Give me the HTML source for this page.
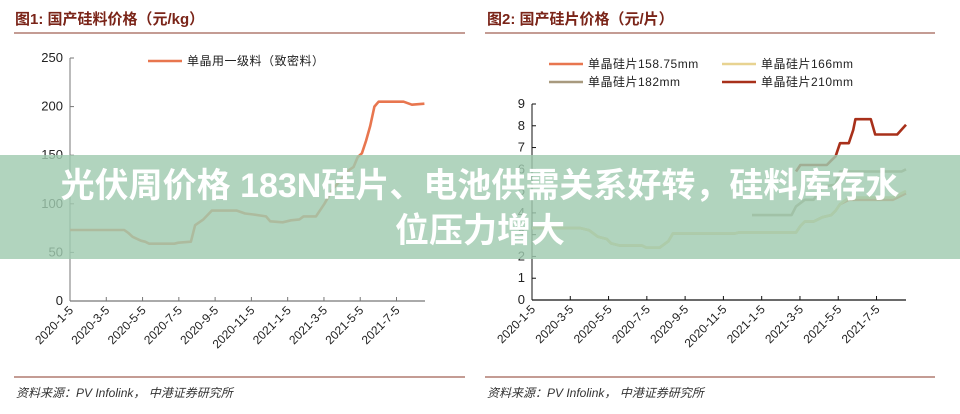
<!DOCTYPE html>
<html><head><meta charset="utf-8">
<style>
body{margin:0;width:960px;height:414px;background:#fff;overflow:hidden;font-family:"Liberation Sans","Noto Sans CJK SC",sans-serif;}
svg{position:absolute;left:0;top:0}
#band{position:absolute;left:0;top:155px;width:960px;height:104px;background:rgba(160,202,176,0.82);}
#headline{position:absolute;left:0;top:164px;width:960px;text-align:center;color:#fff;font:bold 34px/45px "Liberation Sans","Noto Sans CJK SC",sans-serif;}
</style></head><body>
<svg id="chart" width="960" height="414"></svg>
<div id="band"></div>
<div id="headline">光伏周价格 183N硅片、电池供需关系好转，硅料库存水<br>位压力增大</div>
<script>
const dateLabels=["2020-1-5","2020-3-5","2020-5-5","2020-7-5","2020-9-5","2020-11-5","2021-1-5","2021-3-5","2021-5-5","2021-7-5"];
const tickWeeks=[0,8.7,17.4,26.1,34.8,43.5,52.2,60.9,69.6,78.3];
const y1Ticks=[0,50,100,150,200,250];
const y2Ticks=[0,1,2,3,4,5,6,7,8,9];
const polyWeeks=[0,13,14,15,17,18,19,25,26,29,30,32,34,40,42,44,47,48,51,53,55,56,59,61,63,65,67,68,69,70,71,72,73,74,80,82,85];
const polyVals=[73,73,70,66,62,61,59,59,60,61,78,84,93,93,90,89,87,82,81,83,84,87,87,100,115,125,135,138,148,152,165,180,200,205,205,202,203];
const w158Weeks=[0,11,13,15,17,18,20,25,26,29,31,32,46,47,60,61,62,64,66,68,69,70,72,82,85];
const w158Vals=[3.3,3.3,3.2,2.9,2.8,2.6,2.5,2.5,2.4,2.4,2.7,3.05,3.05,3.1,3.1,3.4,3.6,3.6,3.8,3.9,4.1,4.4,4.6,4.6,4.9];
const w166Weeks=[0,11,13,15,17,18,20,25,26,29,31,32,46,47,60,61,62,64,66,68,69,70,72,82,85];
const w166Vals=[3.3,3.3,3.2,2.9,2.8,2.6,2.5,2.5,2.4,2.4,2.7,3.05,3.05,3.1,3.1,3.4,3.6,3.6,3.8,3.9,4.1,4.4,4.7,4.7,5.0];
const w182Weeks=[50,59,60,62,64,66,69,70,84,85];
const w182Vals=[3.9,3.9,4.3,4.6,4.6,5.2,5.3,5.9,5.9,6.0];
const w210Weeks=[60,61,67,68,69,70,72,73,73.5,77,78,83,85];
const w210Vals=[5.9,6.2,6.2,6.4,6.6,7.2,7.2,7.8,8.3,8.3,7.6,7.6,8.05];

const NS="http://www.w3.org/2000/svg";
const svg=document.getElementById('chart');
function mk(tag,attrs,parent){const e=document.createElementNS(NS,tag);for(const k in attrs)e.setAttribute(k,attrs[k]);(parent||svg).appendChild(e);return e;}
function txt(x,y,s,attrs){const t=mk('text',Object.assign({x:x,y:y},attrs||{}));t.textContent=s;return t;}

function drawChart(cfg){
  const g=mk('g',{});
  
  
  const xs=w=>cfg.x0+w*cfg.pxw;
  const ys=v=>cfg.yb-(v/cfg.ymax)*(cfg.yb-cfg.yt);
  const t=txt(cfg.tx,24,cfg.title,{fill:'#7a2418','font-size':15,'font-weight':'bold','font-family':'"Liberation Sans","Noto Sans CJK SC",sans-serif'});g.appendChild(t);
  
  const r=mk('line',{x1:cfg.rx1,x2:cfg.rx2,y1:33,y2:33,stroke:'#8a3a28','stroke-width':1},g);
  
  const r2=mk('line',{x1:cfg.rx1,x2:cfg.rx2,y1:377,y2:377,stroke:'#8a3a28','stroke-width':1},g);
  
  const s=txt(cfg.rx1+2,397,'资料来源：PV Infolink， 中港证券研究所',{fill:'#333','font-size':12,'font-style':'italic'});g.appendChild(s);
  
  const ya=mk('line',{x1:cfg.x0,x2:cfg.x0,y1:cfg.yt,y2:cfg.yb,stroke:cfg.axisColor,'stroke-width':1},g);
  
  const xa=mk('line',{x1:cfg.x0,x2:cfg.xend,y1:cfg.yb,y2:cfg.yb,stroke:cfg.axisColor,'stroke-width':1.2},g);
  
  cfg.yTicks.forEach(v=>{
    const y=ys(v);
    mk('line',{x1:cfg.x0,x2:cfg.x0+4,y1:y,y2:y,stroke:cfg.axisColor},g);
    const l=txt(cfg.x0-7,y+4,String(v),{'text-anchor':'end','font-size':13,fill:'#222'});g.appendChild(l);
    
  });
  tickWeeks.forEach((w,i)=>{
    const x=xs(w);
    mk('line',{x1:x,x2:x,y1:cfg.yb,y2:cfg.yb-4,stroke:cfg.axisColor},g);
    const l=txt(x+4,cfg.yb+10,dateLabels[i],{'text-anchor':'end','font-size':12,fill:'#222',transform:`rotate(-45 ${x+4} ${cfg.yb+10})`});g.appendChild(l);
    
  });
  cfg.series.forEach(se=>{
    const d=se.weeks.map((w,i)=>(i?'L':'M')+xs(w).toFixed(1)+','+ys(se.vals[i]).toFixed(1)).join(' ');
    const p=mk('path',{d:d,fill:'none',stroke:se.color,'stroke-width':2.6,'stroke-linejoin':'round'},g);
    
    const ll=mk('line',{x1:se.lx,x2:se.lx+34,y1:se.ly,y2:se.ly,stroke:se.color,'stroke-width':2.6},g);
    
    const lt=txt(se.lx+39,se.ly+4,se.label,{'font-size':12,fill:'#222','letter-spacing':'0.5'});g.appendChild(lt);
    
  });
}
drawChart({name:'chart-polysilicon',title:'图1:  国产硅料价格（元/kg）',tx:15,rx1:14,rx2:465,x0:70,xend:425,pxw:4.17,yt:58,yb:301,ymax:250,yTicks:y1Ticks,axisColor:'#777',
  series:[{id:'line-mono-grade1',weeks:polyWeeks,vals:polyVals,color:'#e8764f',label:'单晶用一级料（致密料）',lx:148,ly:61}]});
drawChart({name:'chart-wafer',title:'图2:  国产硅片价格（元/片）',tx:487,rx1:485,rx2:935,x0:532,xend:906,pxw:4.4,yt:104,yb:300,ymax:9,yTicks:y2Ticks,axisColor:'#111',
  series:[
   {id:'line-158mm',weeks:w158Weeks,vals:w158Vals,color:'#e8764f',label:'单晶硅片158.75mm',lx:549,ly:64},
   {id:'line-166mm',weeks:w166Weeks,vals:w166Vals,color:'#e8d391',label:'单晶硅片166mm',lx:722,ly:64},
   {id:'line-182mm',weeks:w182Weeks,vals:w182Vals,color:'#a89a7e',label:'单晶硅片182mm',lx:549,ly:82},
   {id:'line-210mm',weeks:w210Weeks,vals:w210Vals,color:'#a8301a',label:'单晶硅片210mm',lx:722,ly:82}]});
</script>
</body></html>
